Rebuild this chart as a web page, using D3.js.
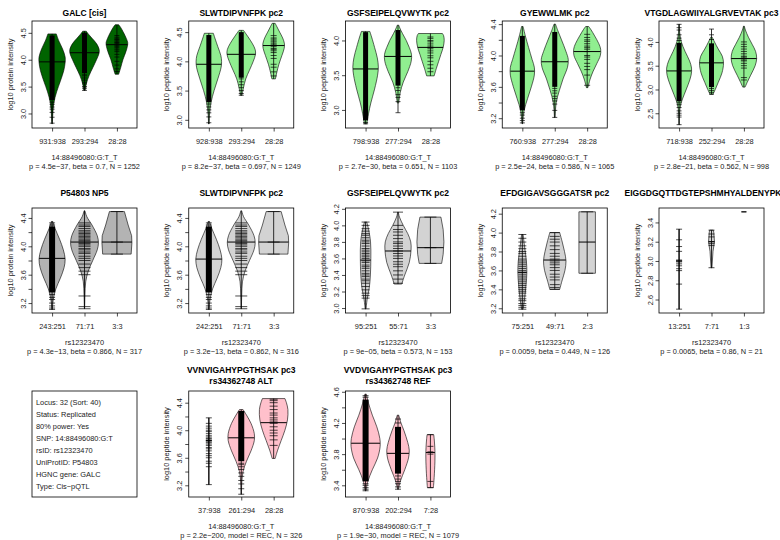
<!DOCTYPE html>
<html><head><meta charset="utf-8">
<script src="https://cdn.jsdelivr.net/npm/d3@7"></script>
<style>body{margin:0;background:#fff} svg{display:block;font-family:"Liberation Sans",Arial,Helvetica,sans-serif}</style>
</head><body><svg id="c" width="780" height="540"></svg>
<script>
// ---------------- DATA ----------------
const TITLES = ["GALC [cis]", "SLWTDIPVNFPK pc2", "GSFSEIPELQVWYTK pc2", "GYEWWLMK pc2", "VTGDLAGWIIYALGRVEVTAK pc3",
  "P54803 NP5", "SLWTDIPVNFPK pc2", "GSFSEIPELQVWYTK pc2", "EFDGIGAVSGGGATSR pc2", "EIGGDGQTTDGTEPSHMHYALDENYPK pc2",
  "VVNVIGAHYPGTHSAK pc3|rs34362748 ALT", "VVDVIGAHYPGTHSAK pc3|rs34362748 REF"];
const YLABELS = ["log10 protein intensity", "log10 peptide intensity", "log10 peptide intensity", "log10 peptide intensity", "log10 peptide intensity",
  "log10 protein intensity", "log10 peptide intensity", "log10 peptide intensity", "log10 peptide intensity", "log10 peptide intensity",
  "log10 peptide intensity", "log10 peptide intensity"];
const SUB1 = ["14:88496080:G:T_T","14:88496080:G:T_T","14:88496080:G:T_T","14:88496080:G:T_T","14:88496080:G:T_T",
  "rs12323470","rs12323470","rs12323470","rs12323470","rs12323470","14:88496080:G:T_T","14:88496080:G:T_T"];
const SUB2 = ["p = 4.5e\u221237, beta = 0.7, N = 1252", "p = 8.2e\u221237, beta = 0.697, N = 1249", "p = 2.7e\u221230, beta = 0.651, N = 1103",
  "p = 2.5e\u221224, beta = 0.586, N = 1065", "p = 2.8e\u221221, beta = 0.562, N = 998",
  "p = 4.3e\u221213, beta = 0.866, N = 317", "p = 3.2e\u221213, beta = 0.862, N = 316", "p = 9e\u221205, beta = 0.573, N = 153",
  "p = 0.0059, beta = 0.449, N = 126", "p = 0.0065, beta = 0.86, N = 21",
  "p = 2.2e\u2212200, model = REC, N = 326", "p = 1.9e\u221230, model = REC, N = 1079"];
const CATS = [["931:938","293:294","28:28"],["928:938","293:294","28:28"],["798:938","277:294","28:28"],["760:938","277:294","28:28"],["718:938","252:294","28:28"],
  ["243:251","71:71","3:3"],["242:251","71:71","3:3"],["95:251","55:71","3:3"],["75:251","49:71","2:3"],["13:251","7:71","1:3"],
  ["37:938","261:294","28:28"],["870:938","202:294","7:28"]];
const YDOM = [[2.73,4.72],[2.86,4.69],[2.74,4.28],[3.075,4.44],[2.19,4.44],
  [3.06,4.54],[3.06,4.54],[2.94,4.21],[3.15,4.26],[2.46,3.55],[3.03,4.57],[3.25,4.61]];
const YTICKS = [[3.0,3.5,4.0,4.5],[3.0,3.5,4.0,4.5],[3.0,3.5,4.0],[3.2,3.4,3.6,3.8,4.0,4.2,4.4],[2.5,3.0,3.5,4.0],
  [3.2,3.4,3.6,3.8,4.0,4.2,4.4],[3.2,3.4,3.6,3.8,4.0,4.2,4.4],[3.0,3.2,3.4,3.6,3.8,4.0,4.2],[3.2,3.4,3.6,3.8,4.0,4.2],[2.6,2.8,3.0,3.2,3.4],
  [3.2,3.4,3.6,3.8,4.0,4.2,4.4],[3.4,3.6,3.8,4.0,4.2,4.4,4.6]];
const YLABELED = [[3.0,3.5,4.0,4.5],[3.0,3.5,4.0,4.5],[3.0,3.5,4.0],[3.2,3.6,4.0,4.4],[2.5,3.0,3.5,4.0],
  [3.2,3.6,4.0,4.4],[3.2,3.6,4.0,4.4],[3.0,3.2,3.4,3.6,3.8,4.0,4.2],[3.2,3.4,3.6,3.8,4.0,4.2],[2.6,2.8,3.0,3.2,3.4],
  [3.2,3.6,4.0,4.4],[3.4,3.8,4.2,4.6]];
// violin profiles: [value, relative density]
const VIOLINS = [
 [[[2.81,0.02],[3.0,0.05],[3.2,0.12],[3.4,0.3],[3.6,0.55],[3.8,0.78],[3.95,0.87],[4.05,0.87],[4.2,0.7],[4.35,0.45],[4.48,0.28]],
  [[3.43,0.05],[3.55,0.12],[3.7,0.3],[3.85,0.55],[4.0,0.8],[4.12,0.97],[4.2,0.97],[4.3,0.8],[4.4,0.5],[4.48,0.25],[4.53,0.12]],
  [[3.73,0.12],[3.85,0.25],[4.0,0.4],[4.15,0.6],[4.25,0.7],[4.32,0.72],[4.4,0.62],[4.5,0.45],[4.6,0.25],[4.65,0.12]]],
 [[[2.93,0.02],[3.1,0.05],[3.3,0.15],[3.5,0.35],[3.7,0.6],[3.9,0.82],[4.0,0.85],[4.1,0.8],[4.25,0.6],[4.4,0.4],[4.48,0.3]],
  [[3.42,0.05],[3.55,0.15],[3.7,0.3],[3.85,0.55],[4.0,0.8],[4.12,0.95],[4.2,0.93],[4.3,0.75],[4.42,0.45],[4.53,0.15]],
  [[3.7,0.12],[3.8,0.2],[3.95,0.35],[4.1,0.55],[4.22,0.7],[4.3,0.72],[4.4,0.6],[4.5,0.4],[4.6,0.2],[4.65,0.1]]],
 [[[2.8,0.08],[2.95,0.2],[3.1,0.35],[3.3,0.6],[3.5,0.8],[3.62,0.85],[3.75,0.78],[3.9,0.6],[4.05,0.4],[4.13,0.28]],
  [[3.1,0.05],[3.25,0.15],[3.4,0.35],[3.55,0.65],[3.7,0.88],[3.8,0.9],[3.9,0.75],[4.0,0.55],[4.1,0.3],[4.18,0.12],[4.22,0.05]],
  [[3.49,0.25],[3.6,0.4],[3.7,0.55],[3.8,0.7],[3.9,0.85],[4.0,0.92],[4.07,0.88],[4.1,0.8]]],
 [[[3.13,0.02],[3.3,0.12],[3.45,0.35],[3.6,0.6],[3.75,0.8],[3.85,0.8],[3.95,0.65],[4.1,0.42],[4.25,0.2],[4.37,0.05]],
  [[3.21,0.02],[3.4,0.1],[3.55,0.3],[3.7,0.55],[3.85,0.85],[3.95,0.9],[4.05,0.75],[4.2,0.45],[4.32,0.2],[4.4,0.05]],
  [[3.59,0.05],[3.7,0.2],[3.8,0.4],[3.9,0.65],[4.0,0.88],[4.08,0.9],[4.15,0.78],[4.25,0.5],[4.33,0.25],[4.37,0.1]]],
 [[[2.26,0.01],[2.5,0.03],[2.7,0.12],[2.9,0.35],[3.1,0.6],[3.3,0.8],[3.45,0.83],[3.6,0.7],[3.8,0.4],[4.0,0.15],[4.2,0.04],[4.37,0.01]],
  [[2.9,0.1],[3.0,0.25],[3.15,0.45],[3.35,0.7],[3.55,0.8],[3.7,0.72],[3.85,0.45],[4.0,0.2],[4.1,0.05]],
  [[3.05,0.08],[3.15,0.22],[3.3,0.45],[3.5,0.75],[3.65,0.85],[3.8,0.78],[3.95,0.55],[4.1,0.3],[4.25,0.1],[4.33,0.03]]],
 [[[3.11,0.02],[3.25,0.08],[3.4,0.25],[3.55,0.55],[3.7,0.8],[3.82,0.87],[3.95,0.75],[4.1,0.5],[4.25,0.2],[4.35,0.05]],
  [[3.12,0.01],[3.3,0.03],[3.5,0.08],[3.65,0.25],[3.8,0.55],[3.95,0.85],[4.05,0.93],[4.15,0.85],[4.3,0.5],[4.42,0.15],[4.5,0.03]],
  [[3.89,0.95],[4.05,1.0],[4.15,0.98],[4.3,0.75],[4.49,0.5]]],
 [[[3.11,0.02],[3.25,0.08],[3.4,0.25],[3.55,0.55],[3.7,0.8],[3.82,0.87],[3.95,0.75],[4.1,0.5],[4.25,0.2],[4.35,0.05]],
  [[3.12,0.01],[3.3,0.03],[3.5,0.08],[3.65,0.25],[3.8,0.55],[3.95,0.85],[4.05,0.93],[4.15,0.85],[4.3,0.5],[4.42,0.15],[4.5,0.03]],
  [[3.89,0.95],[4.05,1.0],[4.15,0.98],[4.3,0.75],[4.49,0.5]]],
 [[[2.99,0.03],[3.1,0.1],[3.25,0.25],[3.4,0.32],[3.6,0.35],[3.8,0.33],[3.95,0.2],[4.04,0.08]],
  [[3.29,0.25],[3.4,0.45],[3.55,0.75],[3.7,0.87],[3.8,0.85],[3.9,0.65],[4.0,0.35],[4.1,0.1],[4.16,0.02]],
  [[3.54,0.75],[3.65,0.85],[3.8,0.9],[3.95,0.85],[4.1,0.7]]],
 [[[3.19,0.05],[3.3,0.15],[3.45,0.25],[3.58,0.3],[3.7,0.27],[3.85,0.15],[3.98,0.05]],
  [[3.4,0.33],[3.5,0.5],[3.6,0.68],[3.7,0.75],[3.8,0.65],[3.9,0.5],[4.0,0.33]],
  [[3.57,0.55],[4.22,0.55]]],
 [[[2.5,0.01],[3.0,0.02],[3.33,0.01]],
  [[2.93,0.03],[3.1,0.1],[3.2,0.2],[3.3,0.15],[3.32,0.12]],
  []],
 [[[3.21,0.005],[3.85,0.02],[4.18,0.005]],
  [[3.07,0.01],[3.25,0.04],[3.4,0.12],[3.55,0.35],[3.7,0.65],[3.85,0.87],[3.95,0.87],[4.1,0.65],[4.22,0.35],[4.3,0.12]],
  [[3.59,0.1],[3.7,0.25],[3.85,0.5],[4.0,0.75],[4.15,0.92],[4.3,0.95],[4.4,0.85],[4.46,0.75]]],
 [[[3.33,0.03],[3.45,0.15],[3.6,0.45],[3.75,0.8],[3.9,0.97],[4.0,0.95],[4.15,0.75],[4.3,0.45],[4.45,0.2],[4.57,0.05]],
  [[3.35,0.03],[3.45,0.15],[3.6,0.45],[3.75,0.7],[3.85,0.75],[3.95,0.65],[4.1,0.4],[4.2,0.2],[4.3,0.05]],
  [[3.37,0.2],[3.5,0.25],[3.7,0.3],[3.85,0.3],[4.0,0.25],[4.05,0.22]]]
];
const MEDIANS = [[3.96,4.13,4.28],[3.95,4.12,4.27],[3.59,3.77,3.9],[3.8,3.92,4.05],[3.39,3.56,3.65],
  [3.83,4.06,4.06],[3.82,4.06,4.06],[3.58,3.69,3.73],[3.58,3.71,3.9],[3.0,3.2,3.51],[3.85,3.89,4.11],[3.94,3.81,3.82]];
// dense ranges of observations (too many to show singly)
const DENSE = [[[3.25,4.45],[3.75,4.5],null],[[3.3,4.45],[3.72,4.5],null],[[2.85,4.12],[3.35,4.15],null],[[3.3,4.25],[3.6,4.3],null],[[2.75,3.98],[3.05,3.97],null],
  [[3.35,4.28],null,null],[[3.35,4.28],null,null],[null,null,null],[null,null,null],[null,null,null],[null,[3.55,4.28],null],[[3.45,4.5],[3.55,4.15],null]];
const POINTS = [
 [[2.82,2.93,3.02,3.08,3.12,3.17,3.21],[3.43,3.47,3.5,3.55,3.58,3.62,3.66,3.7,3.72],[3.78,3.83,3.9,3.97,4.05,4.1,4.15,4.18,4.2,4.23,4.25,4.27,4.3,4.32,4.33,4.35,4.37,4.38,4.4,4.42,4.45]],
 [[2.95,3.05,3.12,3.17,3.22,3.27],[3.42,3.45,3.5,3.55,3.6,3.65,3.7],[3.75,3.82,3.9,3.95,4.05,4.1,4.15,4.18,4.2,4.22,4.25,4.27,4.28,4.3,4.33,4.35,4.38,4.4,4.44]],
 [[2.8,2.82],[2.96,3.12,3.18,3.22,3.28,3.32],[3.55,3.6,3.65,3.7,3.75,3.78,3.82,3.85,3.88,3.9,3.92,3.95,3.98,4.0,4.03,4.05]],
 [[3.14,3.17,3.2,3.24,3.27],[3.21,3.3,3.38,3.42,3.45,3.48,3.52,3.55,3.58],[3.62,3.75,3.82,3.86,3.9,3.95,3.98,4.0,4.05,4.08,4.1,4.12,4.15,4.18,4.2,4.23,4.27]],
 [[2.26,2.42,2.46,2.5,2.55,2.62,2.68,2.72,4.03,4.08,4.15,4.25,4.3,4.37],[2.9,2.94,2.98,3.02,4.05,4.15,4.27],[3.2,3.25,3.45,3.5,3.55,3.6,3.62,3.65,3.68,3.7,3.75,3.8,3.85,3.9,3.95,4.0]],
 [[3.11,3.13,3.16,3.2,3.25,3.28,3.32,4.3,4.33],[3.12,3.15,3.3,3.6,3.65,3.7,3.75,3.8,3.83,3.86,3.9,3.92,3.95,3.97,4.0,4.02,4.04,4.06,4.08,4.1,4.12,4.14,4.16,4.18,4.2,4.22,4.25,4.28,4.3,4.33],[3.89,4.06,4.49]],
 [[3.11,3.13,3.16,3.2,3.25,3.28,3.32,4.3,4.33],[3.12,3.15,3.3,3.6,3.65,3.7,3.75,3.8,3.83,3.86,3.9,3.92,3.95,3.97,4.0,4.02,4.04,4.06,4.08,4.1,4.12,4.14,4.16,4.18,4.2,4.22,4.25,4.28,4.3,4.33],[3.89,4.06,4.49]],
 [[2.99,3.12,3.15,3.18,3.22,3.26,3.3,3.33,3.35,3.38,3.4,3.42,3.45,3.48,3.5,3.52,3.55,3.57,3.6,3.62,3.64,3.66,3.68,3.7,3.72,3.75,3.78,3.8,3.82,3.85,3.88,3.9,3.93,3.96,4.0,4.04],
  [3.3,3.35,3.4,3.45,3.5,3.53,3.56,3.6,3.63,3.66,3.69,3.72,3.75,3.78,3.8,3.84,3.88,3.92,3.95,4.0,4.16],[3.54,3.73,4.1]],
 [[3.19,3.21,3.23,3.25,3.28,3.3,3.33,3.36,3.38,3.4,3.42,3.44,3.46,3.48,3.5,3.52,3.54,3.56,3.58,3.6,3.62,3.64,3.66,3.68,3.7,3.72,3.75,3.78,3.8,3.83,3.86,3.9,3.94,3.98],
  [3.4,3.42,3.45,3.5,3.53,3.56,3.6,3.63,3.66,3.68,3.7,3.72,3.75,3.78,3.82,3.86,3.9,3.93,3.96,4.0],[3.57,4.22]],
 [[2.5,2.76,2.9,2.92,2.95,2.97,2.99,3.0,3.01,3.1,3.15,3.22,3.33],[2.93,3.16,3.18,3.2,3.25,3.28,3.32],[3.51]],
 [[3.21,3.47,3.52,3.55,3.6,3.63,3.66,3.7,3.73,3.75,3.78,3.8,3.82,3.84,3.86,3.88,3.9,3.92,3.95,3.98,4.0,4.03,4.06,4.1,4.18],
  [3.07,3.15,3.22,3.27,3.33,3.38,3.43,3.47,3.5,3.52],[3.78,3.86,3.92,3.96,4.0,4.05,4.1,4.12,4.15,4.18,4.22,4.25,4.3,4.35,4.4,4.43,4.45]],
 [[3.33,3.35,3.37,3.4,3.42,4.53,4.55],[3.35,3.38,3.42,3.45,3.48,3.52,4.2,4.25],[3.37,3.45,3.8,3.83,3.9,4.05]]
];
const INFO_LINES = ["Locus: 32 (Sort: 40)", "Status: Replicated", "80% power: Yes", "SNP: 14:88496080:G:T",
  "rsID: rs12323470", "UniProtID: P54803", "HGNC gene: GALC", "Type: Cis\u2212pQTL"];

// ---------------- STYLE / LAYOUT ----------------
const FILLS = ["#006400","#90EE90","#90EE90","#90EE90","#90EE90","#B3B3B3","#D3D3D3","#D3D3D3","#D3D3D3","#D3D3D3","#FFC0CB","#FFC0CB"];
const TICK_HALF = [[2.5,2.5,2.5],[2.5,2.5,3],[2.5,2.5,3],[2.5,2.5,3],[2.5,2.5,3],
  [3,6,6],[3,6,6],[4,5,6],[4,5,6],[3,3,2.5],[3,3,4],[3,3,3]];
const PLACE = [[0,0],[0,1],[0,2],[0,3],[0,4],[1,0],[1,1],[1,2],[1,3],[1,4],[2,1],[2,2]];
const ROWS = [{top:21,bottom:128,title:[16]},{top:208,bottom:313,title:[196]},{top:391,bottom:497,title:[373,384]}];
const BOX_W = 105;
const boxLeft = c => 32 + 156.75*c;
const FS = 7.4, FT = 8.5;

const svg = d3.select("#c");
svg.append("rect").attr("width",780).attr("height",540).attr("fill","#fff");
const fmt = d3.format(".1f");

TITLES.forEach((title, i) => {
  const [r, c] = PLACE[i];
  const L = boxLeft(c), R = L + BOX_W, T = ROWS[r].top, B = ROWS[r].bottom, CX = (L+R)/2;
  const x = d3.scalePoint().domain(CATS[i]).range([L, R]).padding(0.62);
  const y = d3.scaleLinear().domain(YDOM[i]).range([B, T]);
  const w = d3.scaleLinear().domain([0,1]).range([0,15]);
  const g = svg.append("g");
  const clipId = "clip" + i;
  g.append("clipPath").attr("id", clipId).append("rect").attr("x",L).attr("y",T).attr("width",BOX_W).attr("height",B-T);
  const plot = g.append("g").attr("clip-path", `url(#${clipId})`);

  CATS[i].forEach((cat, k) => {
    const cx = x(cat);
    const prof = VIOLINS[i][k];
    if (prof.length) {
      const area = d3.area().y(d => y(d[0])).x0(d => cx - w(d[1])).x1(d => cx + w(d[1]))
        .curve(prof.length > 5 ? d3.curveCatmullRom.alpha(0.5) : d3.curveLinear);
      plot.append("path").datum(prof).attr("d", area).attr("fill", FILLS[i])
        .attr("stroke","#000").attr("stroke-width",0.6);
    }
    const pts = POINTS[i][k];
    const dense = DENSE[i][k];
    const all = pts.concat(dense ? dense : []).concat(prof.map(d => d[0]));
    const ext = d3.extent(all);
    plot.append("line").attr("x1",cx).attr("x2",cx).attr("y1",y(ext[0])).attr("y2",y(ext[1]))
      .attr("stroke","#000").attr("stroke-width",0.8);
    const th = TICK_HALF[i][k];
    if (dense) {
      plot.append("rect").attr("x",cx-th).attr("width",2*th).attr("y",y(dense[1])).attr("height",y(dense[0])-y(dense[1])).attr("fill","#000");
    }
    plot.selectAll(null).data(pts).enter().append("line")
      .attr("x1",cx-th).attr("x2",cx+th).attr("y1",d=>y(d)).attr("y2",d=>y(d))
      .attr("stroke","#000").attr("stroke-width",0.7);
    // median line across violin
    const med = MEDIANS[i][k];
    let mw = th;
    if (prof.length > 1) {
      const vals = prof.map(d=>d[0]), dens = prof.map(d=>d[1]);
      const interp = d3.scaleLinear().domain(vals).range(dens).clamp(true);
      mw = Math.max(th, w(interp(med)));
    }
    plot.append("line").attr("x1",cx-mw).attr("x2",cx+mw).attr("y1",y(med)).attr("y2",y(med))
      .attr("stroke","#000").attr("stroke-width",1);
  });

  g.append("rect").attr("x",L).attr("y",T).attr("width",BOX_W).attr("height",B-T)
    .attr("fill","none").attr("stroke","#000").attr("stroke-width",0.8);

  const lab = new Set(YLABELED[i].map(v => v.toFixed(2)));
  const ya = g.append("g").attr("transform",`translate(${L},0)`)
    .call(d3.axisLeft(y).tickValues(YTICKS[i]).tickSize(3.5).tickFormat(d => lab.has(d.toFixed(2)) ? fmt(d) : ""));
  ya.select(".domain").remove();
  ya.selectAll("line").attr("stroke","#000").attr("stroke-width",0.7);
  ya.selectAll("text").attr("transform","rotate(-90)").attr("x",0).attr("y",-6.5).attr("dy",0)
    .attr("text-anchor","middle").attr("font-size",FS).attr("font-family",null).attr("fill","#222");

  const xa = g.append("g").attr("transform",`translate(0,${B})`)
    .call(d3.axisBottom(x).tickSize(3.5));
  xa.select(".domain").remove();
  xa.selectAll("line").attr("stroke","#000").attr("stroke-width",0.7);
  xa.selectAll("text").attr("y",16).attr("dy",0).attr("font-size",FS).attr("font-family",null).attr("fill","#222");

  g.append("text").attr("transform",`translate(${L-19.5},${(T+B)/2}) rotate(-90)`).attr("text-anchor","middle")
    .attr("font-size",FS).attr("fill","#222").text(YLABELS[i]);

  title.split("|").forEach((line, li) => {
    g.append("text").attr("x",CX).attr("y",ROWS[r].title[li]).attr("text-anchor","middle")
      .attr("font-size",FT).attr("font-weight","bold").attr("fill","#000").text(line);
  });
  g.append("text").attr("x",CX).attr("y",B+32).attr("text-anchor","middle").attr("font-size",FS).attr("fill","#222").text(SUB1[i]);
  g.append("text").attr("x",CX).attr("y",B+40.5).attr("text-anchor","middle").attr("font-size",FS).attr("fill","#222").text(SUB2[i]);
});

// info box
{
  const L = boxLeft(0), T = ROWS[2].top, B = ROWS[2].bottom;
  svg.append("rect").attr("x",L).attr("y",T).attr("width",BOX_W).attr("height",B-T)
    .attr("fill","none").attr("stroke","#000").attr("stroke-width",0.8);
  svg.selectAll(null).data(INFO_LINES).enter().append("text")
    .attr("x",L+4).attr("y",(d,j)=>T+14.3+12*j).attr("font-size",FS).attr("fill","#222").text(d=>d);
}
</script></body></html>
